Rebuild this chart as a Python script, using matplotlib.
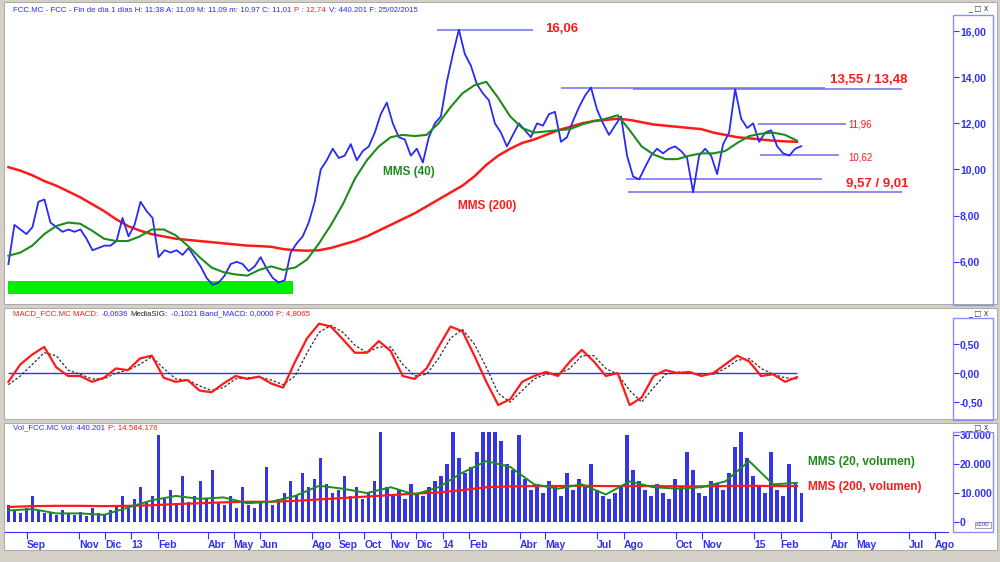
import pandas as pd
import matplotlib.pyplot as plt
from matplotlib.patches import Rectangle
from matplotlib.ticker import FuncFormatter

plt.rcParams['font.family'] = ['Liberation Sans', 'DejaVu Sans']

# ---- data ----
price = [5.9, 7.6, 7.4, 7.2, 7.5, 8.6, 8.7, 7.7, 7.5, 7.3,
         7.4, 7.3, 7.4, 7.0, 6.5, 6.6, 6.7, 6.7, 6.9, 7.9,
         7.1, 7.6, 8.6, 8.2, 7.9, 6.2, 6.5, 6.4, 6.5, 6.3,
         6.6, 6.2, 5.8, 5.3, 5.0, 5.1, 5.4, 5.9, 6.0, 5.9,
         5.6, 5.8, 6.2, 5.7, 5.3, 5.1, 5.2, 6.4, 6.8, 7.1,
         7.7, 8.6, 10.0, 10.4, 10.9, 10.5, 10.6, 11.1, 10.4, 10.8,
         11.0, 11.6, 12.4, 12.9, 12.0, 11.4, 11.3, 10.6, 10.9, 10.3,
         11.4, 12.0, 12.3, 13.8, 15.0, 16.06, 15.0, 14.5, 13.7, 13.3,
         13.0, 12.0, 11.6, 11.0, 11.5, 12.0, 11.7, 11.4, 12.0, 11.9,
         12.4, 12.5, 11.2, 11.4, 12.1, 12.7, 13.2, 13.55, 12.6, 12.0,
         11.5, 11.9, 12.3, 10.6, 9.7, 9.57, 10.1, 10.6, 10.9, 10.7,
         10.9, 11.0, 10.8, 10.5, 9.01, 10.6, 10.9, 10.6, 9.8, 11.1,
         11.6, 13.48, 12.2, 11.8, 12.0, 11.2, 11.6, 11.7, 11.0, 10.7,
         10.6, 10.9, 11.01]
price_dates = pd.date_range('2012-08-10', '2015-02-25', periods=len(price))

volume = [6000, 4000, 3000, 5000, 9000, 4000, 3000, 3500, 2500, 4000,
          3000, 2500, 3500, 2000, 5000, 3000, 2500, 4000, 6000, 9000,
          5000, 8000, 12000, 7000, 9000, 30000, 8000, 11000, 6000, 16000,
          7000, 9000, 14000, 8000, 18000, 7000, 6000, 9000, 5000, 12000,
          6000, 5000, 7000, 19000, 6000, 8000, 10000, 14000, 9000, 17000,
          12000, 15000, 22000, 13000, 10000, 11000, 16000, 9000, 12000, 8000,
          10000, 14000, 31000, 12000, 9000, 11000, 8000, 13000, 10000, 9000,
          12000, 14000, 16000, 20000, 31000, 22000, 17000, 19000, 24000, 31000,
          31000, 31000, 28000, 20000, 18000, 30000, 15000, 11000, 13000, 10000,
          14000, 12000, 9000, 17000, 11000, 15000, 12000, 20000, 11000, 9000,
          8000, 10000, 12000, 30000, 18000, 14000, 11000, 9000, 13000, 10000,
          8000, 15000, 12000, 24000, 18000, 10000, 9000, 14000, 13000, 11000,
          17000, 26000, 31000, 22000, 16000, 12000, 10000, 24000, 11000, 9000,
          20000, 13000, 10000]

ma_dates = pd.date_range('2012-08-10', periods=67, freq='14D')
mms40 = [6.26, 6.4, 6.7, 7.2, 7.55, 7.7, 7.65, 7.35, 7.0, 6.9,
         6.9, 7.1, 7.4, 7.4, 7.15, 6.7, 6.2, 5.75, 5.55, 5.45,
         5.4, 5.65, 5.8, 5.65, 5.75, 6.1, 6.8, 7.6, 8.5, 9.6,
         10.4, 11.0, 11.4, 11.5, 11.45, 11.5, 12.0, 12.7, 13.3, 13.65,
         13.8, 13.1, 12.3, 11.8, 11.6, 11.65, 11.7, 11.75, 11.95, 12.1,
         12.2, 12.35, 11.7, 11.0, 10.65, 10.45, 10.45, 10.6, 10.7, 10.7,
         10.8, 11.15, 11.45, 11.55, 11.6, 11.5, 11.25]
mms200 = [10.1, 9.95, 9.75, 9.5, 9.3, 9.05, 8.8, 8.5, 8.2, 7.85,
          7.55, 7.35, 7.2, 7.1, 7.0, 6.95, 6.9, 6.85, 6.8, 6.75,
          6.7, 6.68, 6.65, 6.55, 6.5, 6.48, 6.5, 6.6, 6.75, 6.9,
          7.1, 7.35, 7.6, 7.85, 8.1, 8.4, 8.7, 9.0, 9.3, 9.7,
          10.2, 10.6, 10.9, 11.15, 11.3, 11.5, 11.7, 11.85, 12.0, 12.1,
          12.15, 12.2, 12.15, 12.05, 11.95, 11.9, 11.85, 11.8, 11.75, 11.6,
          11.5, 11.4, 11.35, 11.3, 11.25, 11.22, 11.2]

vol_ma_dates = pd.date_range('2012-08-10', periods=34, freq='28D')
vol_mms20 = [4000, 4500, 3000, 3000, 2500, 5000, 7500, 9000, 8000, 8500,
             6500, 7000, 9000, 12500, 11500, 10000, 12000, 9500, 12000, 17000,
             21000, 19000, 13000, 11500, 13000, 9500, 14000, 12000, 11500, 12000,
             14000, 21000, 13000, 13500]
vol_mms200 = [5200, 5500, 5600, 5600, 5500, 5600, 5800, 6200, 6500, 6800,
              7000, 7000, 7300, 7800, 8300, 8800, 9300, 9800, 10200, 11000,
              12000, 12300, 12400, 12400, 12500, 12400, 12400, 12400, 12300, 12300,
              12400, 12500, 12400, 12400]

macd_dates = pd.date_range('2012-08-10', periods=67, freq='14D')
macd = [-0.15, 0.15, 0.32, 0.45, 0.1, -0.05, -0.05, -0.15, -0.08, 0.08,
        0.05, 0.25, 0.3, -0.08, -0.15, -0.12, -0.3, -0.33, -0.18, -0.05,
        -0.1, -0.06, -0.18, -0.25, 0.2, 0.6, 0.85, 0.8, 0.58, 0.35,
        0.35, 0.55, 0.38, -0.05, -0.1, 0.08, 0.45, 0.8, 0.72, 0.3,
        -0.15, -0.55, -0.45, -0.15, -0.05, 0.02, -0.05, 0.2, 0.4, 0.2,
        -0.05, 0.0, -0.55, -0.42, -0.05, 0.05, 0.0, 0.02, -0.05, 0.0,
        0.15, 0.3, 0.2, -0.05, -0.02, -0.15, -0.07]
media_sig = [-0.2, -0.05, 0.15, 0.35, 0.3, 0.05, -0.02, -0.1, -0.1, 0.0,
             0.05, 0.15, 0.28, 0.08, -0.1, -0.12, -0.22, -0.3, -0.25, -0.1,
             -0.08, -0.07, -0.12, -0.2, -0.05, 0.35, 0.7, 0.82, 0.7, 0.48,
             0.35, 0.45, 0.45, 0.15, -0.05, -0.02, 0.25, 0.6, 0.75, 0.5,
             0.1, -0.35, -0.5, -0.3, -0.1, -0.02, -0.02, 0.08, 0.3, 0.3,
             0.08, -0.02, -0.3, -0.5, -0.25, -0.02, 0.02, 0.0, -0.02, -0.02,
             0.08, 0.22, 0.25, 0.08, -0.02, -0.08, -0.1]

# support / resistance levels: (value, start, end)
levels = [(16.06, '2013-12-25', '2014-04-17'),
          (13.55, '2014-05-19', '2015-03-25'),
          (13.48, '2014-08-12', '2015-06-23'),
          (11.96, '2015-01-05', '2015-04-18'),
          (10.62, '2015-01-08', '2015-04-10'),
          (9.57, '2014-08-04', '2015-03-21'),
          (9.01, '2014-08-06', '2015-06-23')]
support_zone = (4.61, 5.17, '2012-08-09', '2013-07-09')

tick_dates = ['2012-09-01', '2012-11-01', '2012-12-01', '2013-01-01', '2013-02-01',
              '2013-04-01', '2013-05-01', '2013-06-01', '2013-08-01', '2013-09-01',
              '2013-10-01', '2013-11-01', '2013-12-01', '2014-01-01', '2014-02-01',
              '2014-04-01', '2014-05-01', '2014-07-01', '2014-08-01', '2014-10-01',
              '2014-11-01', '2015-01-01', '2015-02-01', '2015-04-01', '2015-05-01',
              '2015-07-01', '2015-08-01']
tick_labels = ['Sep', 'Nov', 'Dic', '13', 'Feb', 'Abr', 'May', 'Jun', 'Ago', 'Sep',
               'Oct', 'Nov', 'Dic', '14', 'Feb', 'Abr', 'May', 'Jul', 'Ago', 'Oct',
               'Nov', '15', 'Feb', 'Abr', 'May', 'Jul', 'Ago']

# ---- colours ----
BLUE = '#2a2af5'
AXBLUE = '#3030ff'
LINEBLUE = '#6e6ee8'
RED = '#ff1a1a'
GREEN = '#1c8c1c'
GREY = '#d4d0c8'

W, H = 1000, 562


def box(x0, y0, x1, y1):
    return [x0 / W, 1 - y1 / H, (x1 - x0) / W, (y1 - y0) / H]


fig = plt.figure(figsize=(10, 5.62), dpi=100, facecolor=GREY)

# white panel backgrounds (behind the axes)
for y0, y1 in [(2, 304), (308, 419), (423, 550)]:
    fig.add_artist(Rectangle((4 / W, 1 - y1 / H), 993 / W, (y1 - y0) / H,
                             transform=fig.transFigure, fc='white', ec='#a0a0a0',
                             lw=0.6, zorder=-5))

x_lo, x_hi = pd.Timestamp('2012-08-06'), pd.Timestamp('2015-08-16')


def panel(y0, y1):
    ax = fig.add_axes(box(5, y0, 948, y1))
    ax.set_facecolor('none')
    for s in ax.spines.values():
        s.set_visible(False)
    ax.set_xlim(x_lo, x_hi)
    ax.set_xticks([])
    col = fig.add_axes(box(953, y0, 993, y1), sharey=ax)
    col.set_facecolor('none')
    for s in col.spines.values():
        s.set_visible(False)
    col.set_xticks([])
    col.tick_params(axis='y', direction='in', length=4, color=AXBLUE, pad=-5,
                    labelcolor=AXBLUE, labelsize=7.5)
    return ax, col


def column_frame(y0, y1):
    fig.add_artist(Rectangle((953 / W, 1 - y1 / H), 40 / W, (y1 - y0) / H,
                             transform=fig.transFigure, fill=False, ec='#8c8cff', lw=1))


def seg_text(x0, y0, parts, size):
    r = fig.canvas.get_renderer()
    x = x0
    for s, c in parts:
        t = fig.text(x / W, 1 - y0 / H, s, color=c, fontsize=size, va='baseline', ha='left')
        bb = t.get_window_extent(renderer=r)
        x = bb.x1 + 3


# ---- price panel ----
ax1, col1 = panel(20, 304)
ax1.set_ylim(4.17, 16.48)
col1.set_yticks([6, 8, 10, 12, 14, 16])
col1.yaxis.set_major_formatter(FuncFormatter(lambda v, _: f'{v:.2f}'.replace('.', ',')))
column_frame(15, 305)

ax1.fill_between([pd.Timestamp(support_zone[2]), pd.Timestamp(support_zone[3])],
                 support_zone[0], support_zone[1], color='#00ee00', lw=0)
for val, d0, d1 in levels:
    ax1.hlines(val, pd.Timestamp(d0), pd.Timestamp(d1), color=LINEBLUE, lw=1.1)
ax1.plot(ma_dates, mms200, color=RED, lw=1.8)
ax1.plot(price_dates, price, color=BLUE, lw=1.3)
ax1.plot(ma_dates, mms40, color=GREEN, lw=1.5)

ax1.text(pd.Timestamp('2014-05-01'), 16.1, '16,06', color=RED, fontsize=9.5,
         fontweight='bold', va='center')
ax1.text(pd.Timestamp('2015-03-31'), 13.87, '13,55 / 13,48', color=RED, fontsize=9.5,
         fontweight='bold', va='center')
ax1.text(pd.Timestamp('2015-04-21'), 11.96, '11,96', color=RED, fontsize=7,
         va='center')
ax1.text(pd.Timestamp('2015-04-21'), 10.52, '10,62', color=RED, fontsize=7,
         va='center')
ax1.text(pd.Timestamp('2015-04-18'), 9.39, '9,57 / 9,01', color=RED, fontsize=9.5,
         fontweight='bold', va='center')
ax1.text(pd.Timestamp('2013-10-23'), 9.87, 'MMS (40)', color=GREEN, fontsize=8.5,
         fontweight='bold', va='center')
ax1.text(pd.Timestamp('2014-01-19'), 8.43, 'MMS (200)', color=RED, fontsize=8.5,
         fontweight='bold', va='center')

seg_text(13, 11.5, [('FCC.MC - FCC - Fin de día 1 días H: 11:38 A: 11,09 M: 11,09 '
                     'm: 10,97 C: 11,01', BLUE), ('P : 12,74', RED),
                    ('V: 440.201 F: 25/02/2015', BLUE)], 5.7)

# ---- MACD panel ----
ax2, col2 = panel(308, 419)
ax2.set_ylim(-0.79, 1.12)
col2.set_yticks([-0.5, 0, 0.5])
col2.yaxis.set_major_formatter(FuncFormatter(lambda v, _: f'{v:.2f}'.replace('.', ',')))
column_frame(318, 420)
ax2.hlines(0, macd_dates[0], macd_dates[-1], color=AXBLUE, lw=1)
ax2.plot(macd_dates, media_sig, color='#303030', lw=0.9, ls=(0, (2, 1.5)))
ax2.plot(macd_dates, macd, color=RED, lw=1.6)
seg_text(13, 315.5, [('MACD_FCC.MC MACD:', RED), ('-0,0636', BLUE), ('MediaSIG:', '#202020'),
                     ('-0,1021 Band_MACD: 0,0000', BLUE), ('P: 4,8065', RED)], 5.7)

# ---- volume panel ----
ax3, col3 = panel(423, 532)
ax3.set_ylim(-3400, 34100)
col3.set_yticks([0, 10000, 20000, 30000])
col3.yaxis.set_major_formatter(FuncFormatter(lambda v, _: f'{int(v):,}'.replace(',', '.')))
column_frame(432, 532)
ax3.bar(price_dates, volume, width=4, color='#3434e8', lw=0)
ax3.plot(vol_ma_dates, vol_mms200, color=RED, lw=1.6)
ax3.plot(vol_ma_dates, vol_mms20, color=GREEN, lw=1.4)
ax3.text(pd.Timestamp('2015-03-05'), 20700, 'MMS (20, volumen)', color=GREEN, fontsize=8.5,
         fontweight='bold', va='center')
ax3.text(pd.Timestamp('2015-03-05'), 12100, 'MMS (200, volumen)', color=RED, fontsize=8.5,
         fontweight='bold', va='center')
seg_text(13, 429.5, [('Vol_FCC.MC Vol: 440.201', BLUE), ('P: 14.584.176', RED)], 5.7)
fig.text(983 / W, 1 - 525 / H, 'x100', fontsize=4.5, color=AXBLUE, ha='center', va='center',
         bbox=dict(fc='white', ec='#808080', lw=0.5, pad=0.6))

# x axis along the bottom of the volume panel
ax3.spines['bottom'].set_visible(True)
ax3.spines['bottom'].set_color(AXBLUE)
ax3.set_xticks(pd.to_datetime(tick_dates))
ax3.set_xticklabels(tick_labels)
ax3.tick_params(axis='x', direction='out', length=5, color=AXBLUE, labelcolor=AXBLUE,
                labelsize=7.5, pad=1)
for lab in ax3.get_xticklabels():
    lab.set_ha('left')
    lab.set_fontweight('bold')

# y ticks only in the right-hand columns
for ax, c in ((ax1, col1), (ax2, col2), (ax3, col3)):
    ax.tick_params(axis='y', left=False, labelleft=False)
    for lab in c.get_yticklabels():
        lab.set_ha('left')
        lab.set_fontweight('bold')

# window buttons
for yb in (8, 313, 427):
    fig.text(988 / W, 1 - yb / H, '_ □ x', fontsize=5.5, color='#404040', ha='right',
             va='center', family='DejaVu Sans')

fig.savefig('out.png', dpi=100, facecolor=GREY)
